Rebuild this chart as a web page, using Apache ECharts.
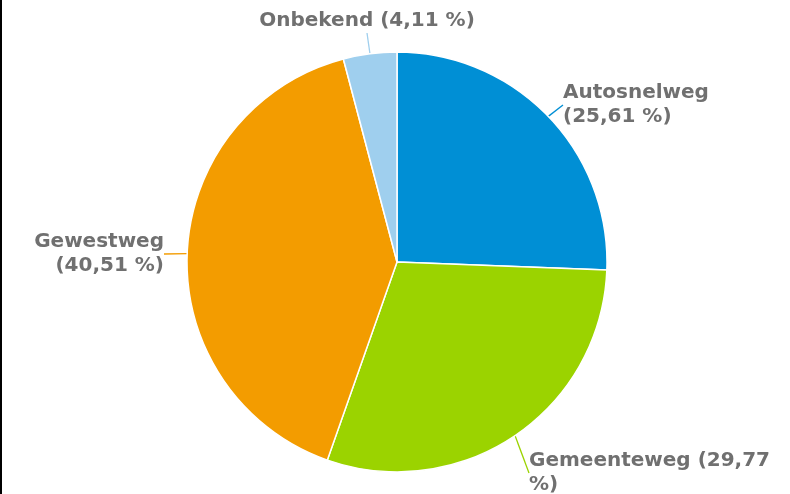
<!DOCTYPE html>
<html>
<head>
<meta charset="utf-8">
<script src="https://cdn.jsdelivr.net/npm/echarts@6/dist/echarts.min.js"></script>
<style>
  html, body { margin: 0; padding: 0; background: #fff; }
  #main { position: absolute; left: 0; top: 0; width: 790px; height: 494px; }
  #edge { position: absolute; left: 0; top: 0; width: 2px; height: 494px; background: #000; }
</style>
</head>
<body>
<div id="main"></div>
<div id="edge"></div>
<script>
// wegtypes en hun aandeel (%)
var categories = ["Autosnelweg", "Gemeenteweg", "Gewestweg", "Onbekend"];
var values = [25.61, 29.77, 40.51, 4.11];
var colors = ["#008fd5", "#9bd300", "#f39c00", "#9fcfee"];

(function () {
  var myChart = echarts.init(document.getElementById("main"));

  var data = categories.map(function (name, i) {
    return { name: name, value: values[i], itemStyle: { color: colors[i] } };
  });

  // labelposities zoals in de referentie
  var labelPos = [
    { x: 563, y: 105, align: "left" },
    { x: 529, y: 473, align: "left" },
    { x: 164, y: 254, align: "right" },
    { x: 367, y: 21, align: "center" }
  ];

  function pct(v) {
    return v.toFixed(2).replace(".", ",");
  }

  var option = {
    animation: false,
    series: [
      {
        type: "pie",
        center: [397, 262],
        radius: [0, 210],
        startAngle: 90,
        clockwise: true,
        data: data,
        itemStyle: { borderColor: "#fff", borderWidth: 1.5 },
        label: {
          show: true,
          position: "outside",
          fontFamily: "DejaVu Sans",
          fontWeight: "bold",
          fontSize: 20,
          lineHeight: 24,
          color: "#707070",
          formatter: function (p) {
            var t = "(" + pct(values[p.dataIndex]) + " %)";
            if (p.dataIndex === 1) return p.name + " (" + pct(values[1]) + "\n%)";
            if (p.dataIndex === 3) return p.name + " " + t;
            return p.name + "\n" + t;
          }
        },
        labelLine: { show: true, length: 20, length2: 0, lineStyle: { width: 1.3 } },
        labelLayout: function (params) {
          var p = labelPos[params.dataIndex];
          return { x: p.x, y: p.y, align: p.align, verticalAlign: "middle" };
        }
      }
    ]
  };

  myChart.setOption(option);
  window.addEventListener("resize", function () {
    myChart.resize();
  });
})();
</script>
</body>
</html>
